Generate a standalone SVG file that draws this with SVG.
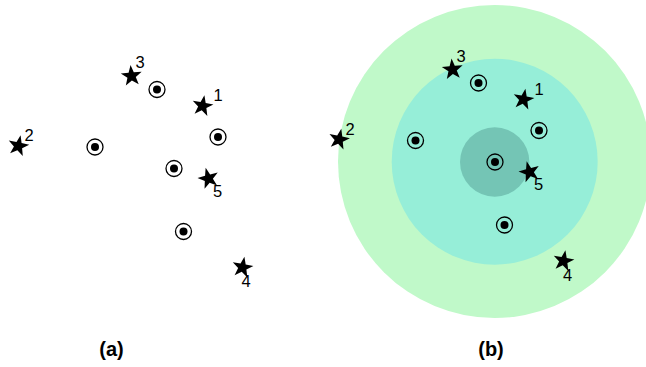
<svg xmlns="http://www.w3.org/2000/svg" xmlns:xlink="http://www.w3.org/1999/xlink" width="646" height="367" viewBox="0 0 646 367">
<defs>
<style>
.lbl{font-family:"Liberation Sans",Arial,sans-serif;font-size:16.5px;fill:#000}
.cap{font-family:"Liberation Sans",Arial,sans-serif;font-size:20px;font-weight:bold;fill:#000;text-anchor:middle}
.ring{fill:none;stroke:#000;stroke-width:1.3}
</style>
<path id="star" d="M0,-11 L2.6,-3.56 L10.46,-3.4 L4.18,1.36 L6.47,8.9 L0,4.4 L-6.47,8.9 L-4.18,1.36 L-10.46,-3.4 L-2.6,-3.56 Z" fill="#000"/>
<g id="cdot"><circle r="8" class="ring"/><circle r="4" fill="#000"/></g>
</defs>
<rect width="646" height="367" fill="#fff"/>
<g id="panel-b-zones">
<circle cx="494.5" cy="161.5" r="156.5" fill="#c0f9c9"/>
<circle cx="494.7" cy="161.7" r="103" fill="#96eed8"/>
<circle cx="494.7" cy="162" r="34.7" fill="#74c5b5"/>
</g>
<g id="panel-a">
<g id="a-dots">
<use xlink:href="#cdot" x="157" y="89.5"/>
<use xlink:href="#cdot" x="218" y="137"/>
<use xlink:href="#cdot" x="95" y="147"/>
<use xlink:href="#cdot" x="174" y="168.5"/>
<use xlink:href="#cdot" x="183.5" y="231.5"/>
</g>
<g id="a-star3"><use xlink:href="#star" transform="translate(131.5,76) rotate(-5)"/><text class="lbl" x="135.5" y="68">3</text></g>
<g id="a-star1"><use xlink:href="#star" transform="translate(202.5,106) rotate(10)"/><text class="lbl" x="213.5" y="101">1</text></g>
<g id="a-star2"><use xlink:href="#star" transform="translate(18.3,146) rotate(12)"/><text class="lbl" x="24.5" y="141">2</text></g>
<g id="a-star5"><use xlink:href="#star" transform="translate(208.5,178.5) rotate(-15)"/><text class="lbl" x="213" y="196.5">5</text></g>
<g id="a-star4"><use xlink:href="#star" transform="translate(242.5,267.5) rotate(10)"/><text class="lbl" x="241.5" y="287">4</text></g>
<text class="cap" x="111.5" y="356">(a)</text>
</g>
<g id="panel-b">
<g id="b-dots">
<use xlink:href="#cdot" x="478.5" y="83"/>
<use xlink:href="#cdot" x="539" y="130.5"/>
<use xlink:href="#cdot" x="415.5" y="140.5"/>
<use xlink:href="#cdot" x="495" y="162"/>
<use xlink:href="#cdot" x="504.5" y="225"/>
</g>
<g id="b-star3"><use xlink:href="#star" transform="translate(452.5,69.5) rotate(-5)"/><text class="lbl" x="456.5" y="61.5">3</text></g>
<g id="b-star1"><use xlink:href="#star" transform="translate(523.5,99.5) rotate(10)"/><text class="lbl" x="534.5" y="94.5">1</text></g>
<g id="b-star2"><use xlink:href="#star" transform="translate(339,139.5) rotate(12)"/><text class="lbl" x="345.5" y="134.5">2</text></g>
<g id="b-star5"><use xlink:href="#star" transform="translate(529.5,172) rotate(-15)"/><text class="lbl" x="534" y="190">5</text></g>
<g id="b-star4"><use xlink:href="#star" transform="translate(563.5,261) rotate(10)"/><text class="lbl" x="563" y="280.5">4</text></g>
<text class="cap" x="491" y="356">(b)</text>
</g>
</svg>
